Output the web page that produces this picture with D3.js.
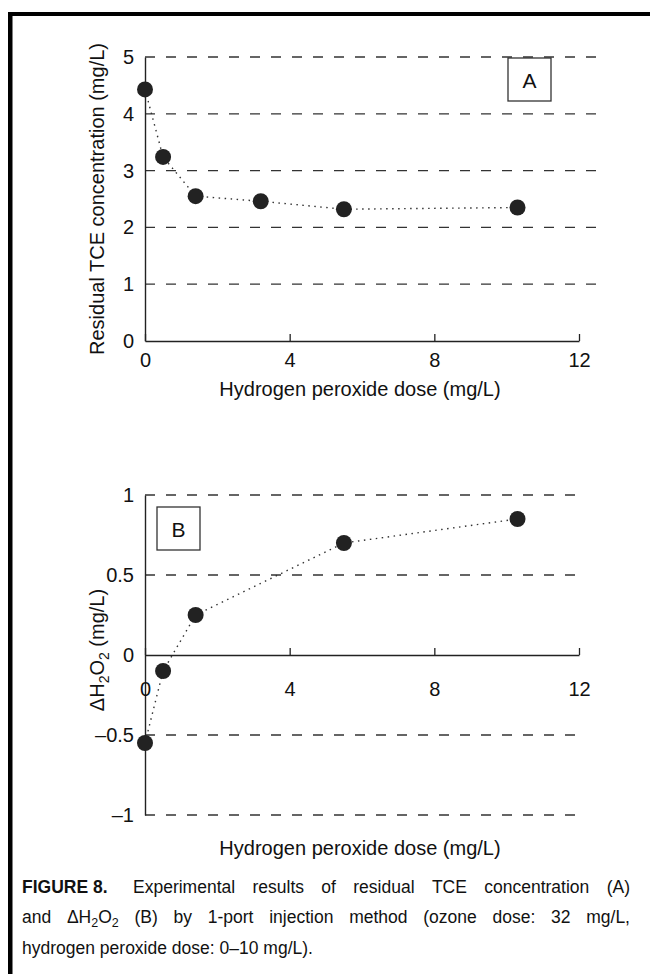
<!DOCTYPE html>
<html>
<head>
<meta charset="utf-8">
<script src="https://cdn.jsdelivr.net/npm/d3@7"></script>
<style>
  body { margin: 0; background: #fff; }
  svg { display: block; font-family: "Liberation Sans", Arial, sans-serif; }
</style>
</head>
<body>
<svg id="fig"></svg>
<script>
// data
const xTicks = [0, 4, 8, 12];

const doseA = [0, 0.5, 1.4, 3.2, 5.5, 10.3];
const tceA = [4.43, 3.24, 2.55, 2.46, 2.32, 2.35];
const yTicksA = [0, 1, 2, 3, 4, 5];

const doseB = [0, 0.5, 1.4, 5.5, 10.3];
const dH2O2 = [-0.55, -0.1, 0.25, 0.70, 0.85];
const yTicksB = [-1, -0.5, 0, 0.5, 1];
const yLabelsB = ["\u20131", "\u20130.5", "0", "0.5", "1"];

const width = 650;
const height = 974;
const ink = "#222";

const svg = d3.select('#fig')
    .attr('width', width)
    .attr('height', height);

svg.append('rect').attr('width', width).attr('height', height).attr('fill', '#fff');

// page frame (top and left rule)
svg.append('rect').attr('x', 8).attr('y', 12).attr('width', width - 8).attr('height', 4).attr('fill', '#000');
svg.append('rect').attr('x', 8).attr('y', 12).attr('width', 4.5).attr('height', height - 12).attr('fill', '#000');

const x = d3.scaleLinear().domain([0, 12]).range([145, 579]);

function panel(opts) {
    const g = svg.append('g');
    const y = opts.y;

    // dashed grid lines
    g.selectAll('line.grid')
        .data(opts.grid)
        .enter()
        .append('line')
        .attr('x1', x(0))
        .attr('x2', opts.gridEnd)
        .attr('y1', d => y(d))
        .attr('y2', d => y(d))
        .attr('stroke', '#333')
        .attr('stroke-width', 1.3)
        .attr('stroke-dasharray', '10,11');

    // y axis
    const ya = g.append('g')
        .attr('transform', `translate(${x(0)},0)`)
        .call(d3.axisLeft(y).tickValues(opts.yTicks).tickSize(0).tickPadding(11)
            .tickFormat((d, i) => opts.yLabels[i]));
    ya.select('.domain').attr('stroke', ink).attr('stroke-width', 1.4);
    ya.selectAll('text').attr('font-size', 20).attr('fill', '#111').attr('font-family', null);

    // x axis, ticks pointing up
    const xa = g.append('g')
        .attr('transform', `translate(0,${y(opts.xAt)})`)
        .call(d3.axisBottom(x).tickValues(xTicks).tickSize(-7).tickSizeOuter(0).tickPadding(opts.xPad));
    xa.select('.domain').attr('stroke', ink).attr('stroke-width', 1.4);
    xa.selectAll('line').attr('stroke', ink).attr('stroke-width', 1.3);
    xa.selectAll('text').attr('font-size', 20).attr('fill', '#111').attr('font-family', null);

    // dotted connecting line
    const pts = opts.xs.map((d, i) => [d, opts.ys[i]]);
    g.append('path')
        .datum(pts)
        .attr('fill', 'none')
        .attr('stroke', '#333')
        .attr('stroke-width', 1.4)
        .attr('stroke-dasharray', '1.5,4.5')
        .attr('d', d3.line().x(d => x(d[0])).y(d => y(d[1])));

    g.selectAll('circle')
        .data(pts)
        .enter()
        .append('circle')
        .attr('cx', d => x(d[0]))
        .attr('cy', d => y(d[1]))
        .attr('r', 8)
        .attr('fill', ink);

    // panel letter box
    g.append('rect')
        .attr('x', opts.box[0]).attr('y', opts.box[1])
        .attr('width', 43).attr('height', 43)
        .attr('fill', '#fff').attr('stroke', '#333').attr('stroke-width', 1.3);
    g.append('text')
        .attr('x', opts.box[0] + 21.5).attr('y', opts.box[1] + 22)
        .attr('dy', '0.36em')
        .attr('text-anchor', 'middle')
        .attr('font-size', 21)
        .attr('fill', '#111')
        .text(opts.letter);

    // axis titles
    g.append('text')
        .attr('x', 360).attr('y', opts.xTitleY)
        .attr('text-anchor', 'middle')
        .attr('font-size', 20)
        .attr('fill', '#111')
        .text('Hydrogen peroxide dose (mg/L)');

    const yt = g.append('text')
        .attr('transform', `translate(104,${opts.yTitleY}) rotate(-90)`)
        .attr('text-anchor', 'middle')
        .attr('font-size', 20)
        .attr('fill', '#111');
    opts.yTitle(yt);
}

// panel A
panel({
    y: d3.scaleLinear().domain([0, 5]).range([341, 57]),
    yTicks: yTicksA,
    yLabels: yTicksA.map(String),
    grid: yTicksA.filter(d => d > 0),
    gridEnd: 603,
    xAt: 0,
    xPad: 12,
    xs: doseA, ys: tceA,
    box: [508, 58],
    letter: 'A',
    xTitleY: 396,
    yTitleY: 199,
    yTitle: t => t.text('Residual TCE concentration (mg/L)')
});

// panel B
panel({
    y: d3.scaleLinear().domain([-1, 1]).range([815, 495]),
    yTicks: yTicksB,
    yLabels: yLabelsB,
    grid: yTicksB.filter(d => d !== 0),
    gridEnd: 580,
    xAt: 0,
    xPad: 27,
    xs: doseB, ys: dH2O2,
    box: [157, 507],
    letter: 'B',
    xTitleY: 855,
    yTitleY: 650,
    yTitle: t => {
        t.append('tspan').text('\u0394H');
        t.append('tspan').attr('font-size', 14).attr('dy', 5).text('2');
        t.append('tspan').attr('dy', -5).text('O');
        t.append('tspan').attr('font-size', 14).attr('dy', 5).text('2');
        t.append('tspan').attr('dy', -5).text(' (mg/L)');
    }
});

// caption, justified like the printed figure
const capSize = 17.5;
const capLeft = 22;
const capRight = 630;

function word(parent, segs, bold) {
    const t = parent.append('text')
        .attr('font-size', capSize)
        .attr('fill', '#111')
        .attr('font-weight', bold ? 'bold' : null);
    let shift = 0;
    segs.forEach(s => {
        const sub = typeof s !== 'string';
        const want = sub ? 4 : 0;
        t.append('tspan')
            .attr('dy', want - shift)
            .attr('font-size', sub ? 12.5 : null)
            .text(sub ? s.sub : s);
        shift = want;
    });
    return t;
}

function line(words, y, x0, x1, justify) {
    const g = svg.append('g');
    const nodes = words.map(w => word(g, w, false).attr('y', y));
    const widths = nodes.map(n => n.node().getComputedTextLength());
    const total = d3.sum(widths);
    const gap = justify ? (x1 - x0 - total) / (words.length - 1) : capSize * 0.278;
    let cx = x0;
    nodes.forEach((n, i) => {
        n.attr('x', cx);
        cx += widths[i] + gap;
    });
}

word(svg, ['FIGURE 8.'], true).attr('x', capLeft).attr('y', 893);
line(['Experimental', 'results', 'of', 'residual', 'TCE', 'concentration', '(A)'].map(w => [w]),
    893, 133, capRight, true);
line([['and'], ['\u0394H', {sub: '2'}, 'O', {sub: '2'}], ['(B)'], ['by'], ['1-port'], ['injection'],
      ['method'], ['(ozone'], ['dose:'], ['32'], ['mg/L,']], 923, capLeft, capRight, true);
line(['hydrogen', 'peroxide', 'dose:', '0\u201310', 'mg/L).'].map(w => [w]), 954, capLeft, capRight, false);
</script>
</body>
</html>
